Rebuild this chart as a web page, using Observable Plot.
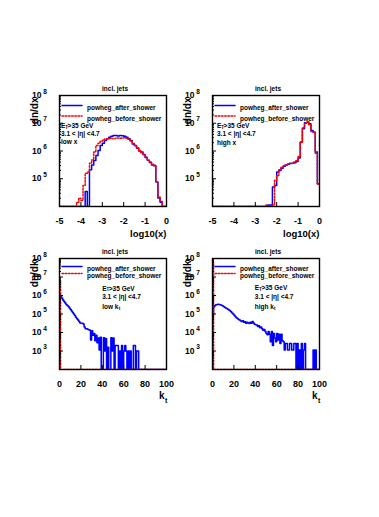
<!DOCTYPE html>
<html><head><meta charset="utf-8">
<script src="https://cdn.jsdelivr.net/npm/d3@7"></script>
<script src="https://cdn.jsdelivr.net/npm/@observablehq/plot@0.6"></script>
<style>
html,body{margin:0;padding:0;background:#fff;}
#root{position:relative;width:379px;height:517px;overflow:hidden;background:#fff;}
#root svg{position:absolute;overflow:visible;background:transparent;}
</style></head><body><div id="root"></div>
<script>
// ---------- data (log10 of bin content; null = empty bin) ----------
const seriesNames = ["powheg_after_shower", "powheg_before_shower"];
const panelTitle = "incl. jets";
const cutEt = ">35 GeV";
const cutEta = "3.1 < |η| <4.7";
const tagWords = ["low x", "high x", "low k", "high k"];

// log10(x) bins of width 0.1 from -5 to 0
const logxEdges = d3.range(50).map(i => Math.round((-5 + i * 0.1) * 10) / 10);
const logxWidth = 0.1;
const logxTicks = [-5, -4, -3, -2, -1, 0];

const lowX_after = [null, null, null, null, null, null, null, null, null, null, null, null,
  4.54, null, 5.32, 5.5, 5.66, 5.84, 6.02, 6.2, 6.28, 6.38, 6.44, 6.5,
  6.53, 6.56, 6.56, 6.54, 6.56, 6.55, 6.53, 6.5, 6.44, 6.38,
  6.25, 6.2, 6.1, 6.0, 5.96, 5.87, 5.77, 5.67, 5.59, 5.5,
  5.48, 4.88, 4.31, 4.15, null, null];
const lowX_before = [null, null, null, null, null, null, null, null,
  4.15, 4.3, 4.22, 4.76, 5.2, 5.24, 5.56, 5.68, 5.96, 6.2,
  6.28, 6.35, 6.4, 6.43, 6.44, 6.45, 6.45, 6.44, 6.46, 6.47,
  6.46, 6.47, 6.48, 6.46, 6.42, 6.36, 6.27, 6.2, 6.12, 6.02,
  5.94, 5.86, 5.78, 5.66, 5.6, 5.52, 5.46, 4.9, 4.34, 4.18, null, null];
const highX_after = [null, null, null, null, null, null, null, null, null, null,
  null, null, null, null, null, null, null, null, null, null,
  null, null, null, null, null, null,
  4.05, 4.05, 4.7, 4.76, 5.24, 5.3, 5.38, 5.45, 5.5, 5.52,
  5.55, 5.56, 5.58, 5.62, 5.75, 6.32, 6.8, 7.02, 7.04, 6.98,
  6.74, 6.68, 5.96, 4.82];
const highX_before = [null, null, null, null, null, null, null, null, null, null,
  null, null, null, null, null, null, null, null, null, null,
  null, null, null, null, null,
  4.05, null, null, 4.05, 4.95, 5.12, 5.32, 5.42, 5.48, 5.5,
  5.54, 5.56, 5.56, 5.6, 5.66, 5.8, 6.3, 6.85, 7.0, 7.05,
  6.95, 6.7, 6.68, 5.92, 4.8];

// k_t bins of 1 GeV from 0 to 100
const ktEdges = d3.range(100);
const ktWidth = 1;
const ktTicks = [0, 20, 40, 60, 80, 100];

const lowKt_after = [6.05, 5.95, 5.85, 5.76, 5.68, 5.6, 5.52, 5.46, 5.4, 5.32,
  5.24, 5.16, 5.08, 5.0, 4.92, 4.82, 4.75, 4.68, 4.6, 4.52,
  4.5, 4.5, 4.46, 4.3, 4.2, 4.2, 4.18, 4.15, 4.12, 3.6,
  4.1, 3.85, 3.95, 3.55, 3.85, 3.45, 3.7, 3.05, 3.75, null,
  null, 3.72, 3.0, 3.68, null, 3.2, null, null, 3.72, 3.0,
  3.7, null, 3.3, 3.3, 3.3, null, 3.0, null, 3.3, null,
  3.0, 3.3, 3.0, null, 3.0, null, 3.0, null, null, 3.3,
  3.3, null, 3.0, 3.0];
const lowKt_before = [6.8];
const highKt_after = [5.0, 5.38, 5.46, 5.5, 5.52, 5.53, 5.52, 5.5, 5.47, 5.44,
  5.4, 5.36, 5.33, 5.3, 5.26, 5.22, 5.17, 5.12, 5.06, 5.0,
  4.93, 4.86, 4.8, 4.76, 4.7, 4.68, 4.62, 4.6, 4.64, 4.55,
  4.58, 4.5, 4.56, 4.52, 4.48, 4.55, 4.5, 4.6, 4.52, 4.45,
  4.42, 4.4, 4.32, 4.36, 4.26, 4.3, 4.2, 4.12, 4.16, 4.05,
  3.95, 3.88, 4.05, 3.9, 3.5, 4.05, 3.3, 3.95, 3.7, 3.5,
  3.95, 3.6, 3.9, 3.4, 3.9, 3.55, 3.5, 3.05, 3.4, 3.4,
  3.05, 3.05, 3.4, 3.4, 3.05, 3.05, 3.4, 3.4, null, 3.4,
  null, 3.05, null, 3.4, null, 3.05, 3.4, null, null, null,
  null, null, null, null, 3.05, null, 3.05];
const highKt_before = [7.8];

// ---------- drawing ----------
const FONT = '"Liberation Sans", Arial, Helvetica, sans-serif';
const BLUE = "#0000ff", RED = "#ff0000";
const DASH = "1.6,1.6";
const hline = {draw(ctx, l) { ctx.moveTo(0, 0); ctx.lineTo(l, 0); }};

function steps(edges, width, vals, ymin) {
  return edges.flatMap((e, i) => {
    const v = vals[i];
    const y = v == null ? ymin : 10 ** v;
    return [{x: e, y}, {x: e + width, y}];
  });
}
function minorTicks(lo, hi) {
  const out = [];
  for (let d = lo; d < hi; d++) for (let k = 2; k <= 9; k++) out.push(k * 10 ** d);
  return out;
}

function panel(cfg) {
  const ymin = 10 ** cfg.yExp[0], ymax = 10 ** cfg.yExp[1];
  const yMajor = d3.range(cfg.yExp[0], cfg.yExp[1] + 1).map(e => 10 ** e);
  const yLabels = d3.range(cfg.yLabelFrom, cfg.yExp[1] + 1).map(e => 10 ** e);
  const t = (txt, o) => Plot.text([txt], {frameAnchor: "top-left", textAnchor: "start", fontSize: 6.5, fontWeight: "bold", ...o});
  const marks = [
    Plot.line(steps(cfg.edges, cfg.width, cfg.after, ymin), {x: "x", y: "y", stroke: BLUE, strokeWidth: 1.5, clip: true}),
    Plot.line(steps(cfg.edges, cfg.width, cfg.before, ymin), {x: "x", y: "y", stroke: RED, strokeWidth: 1.5, strokeDasharray: DASH, clip: true}),
    // ticks inside the frame
    Plot.axisX({ticks: cfg.xTicks, tickSize: 4, dy: -4, tickFormat: () => "", label: null, stroke: "black"}),
    Plot.axisX({ticks: cfg.xTicks, tickSize: 0, tickPadding: 11, tickFormat: d => String(d), label: null, fontSize: 9, fontWeight: "bold"}),
    Plot.axisY({ticks: yMajor, tickSize: 4, dx: 4, tickFormat: () => "", label: null, stroke: "black"}),
    Plot.axisY({ticks: minorTicks(cfg.yExp[0], cfg.yExp[1]), tickSize: 2, dx: 2, tickFormat: () => "", label: null, stroke: "black"}),
    // y tick labels 10^n
    Plot.text(yLabels, {y: d => d, text: () => "10", frameAnchor: "left", textAnchor: "end", dx: -18, fontSize: 8.5, fontWeight: "bold"}),
    Plot.text(yLabels, {y: d => d, text: d => String(Math.round(Math.log10(d))), frameAnchor: "left", textAnchor: "start", dx: -16.2, dy: -4, fontSize: 6.5, fontWeight: "bold"}),
    Plot.frame({stroke: "black", strokeWidth: 1.4}),
    // title
    Plot.text([panelTitle], {frameAnchor: "top", dx: 2, dy: -9, fontSize: 6.5, fontWeight: "bold"}),
    // y title
    Plot.text([cfg.yTitle], {frameAnchor: "top-left", rotate: -90, textAnchor: "end", dx: -29, dy: 2, fontSize: 10, fontWeight: "bold"}),
    // legend
    Plot.vector([0], {frameAnchor: "top-left", dx: cfg.lg.lineDx, dy: cfg.lg.dy[0], length: 20, shape: hline, anchor: "start", stroke: BLUE, strokeWidth: 1.5}),
    Plot.vector([0], {frameAnchor: "top-left", dx: cfg.lg.lineDx, dy: cfg.lg.dy[1], length: 20, shape: hline, anchor: "start", stroke: RED, strokeWidth: 1.5, strokeDasharray: DASH}),
    t(seriesNames[0], {dx: cfg.lg.textDx, dy: cfg.lg.dy[0]}),
    t(seriesNames[1], {dx: cfg.lg.textDx, dy: cfg.lg.dy[1]}),
    // cuts
    t("E", {dx: cfg.tag.dx, dy: cfg.tag.dy[0]}),
    t("T", {dx: cfg.tag.dx + 4.3, dy: cfg.tag.dy[0] + 1.8, fontSize: 4.5}),
    t(cutEt, {dx: cfg.tag.dx + 6.6, dy: cfg.tag.dy[0]}),
    t(cutEta, {dx: cfg.tag.dx, dy: cfg.tag.dy[1]}),
    t(cfg.tag.word, {dx: cfg.tag.dx, dy: cfg.tag.dy[2]})
  ];
  if (cfg.tag.sub) marks.push(t("t", {dx: cfg.tag.dx + cfg.tag.subDx, dy: cfg.tag.dy[2] + 1.8, fontSize: 4.5}));
  if (cfg.ySub) marks.push(Plot.text([cfg.ySub], {frameAnchor: "top-left", rotate: -90, textAnchor: "start", dx: -26, dy: 2, fontSize: 7, fontWeight: "bold"}));
  if (cfg.xSub) {
    marks.push(Plot.text([cfg.xTitle], {frameAnchor: "bottom-right", textAnchor: "end", dx: -2, dy: 29.5, fontSize: 10, fontWeight: "bold"}));
    marks.push(Plot.text([cfg.xSub], {frameAnchor: "bottom-right", textAnchor: "start", dx: -1.6, dy: 33, fontSize: 7, fontWeight: "bold"}));
  } else {
    marks.push(Plot.text([cfg.xTitle], {frameAnchor: "bottom-right", textAnchor: "end", dx: 0, dy: 30.7, fontSize: 9.5, fontWeight: "bold"}));
  }
  const svg = Plot.plot({
    width: 190, height: 180,
    marginLeft: 59, marginRight: 24, marginTop: 33, marginBottom: 36,
    x: {domain: cfg.xDomain},
    y: {type: "log", domain: [ymin, ymax]},
    style: {background: "transparent", overflow: "visible", fontFamily: FONT, color: "black"},
    marks
  });
  svg.style.left = cfg.left + "px";
  svg.style.top = cfg.top + "px";
  document.getElementById("root").appendChild(svg);
}

const topLg = {lineDx: 2.5, textDx: 27.5, dy: [10, 20.5]};
const botLg = {lineDx: 2.5, textDx: 27.5, dy: [8, 15]};

panel({left: 0, top: 62, edges: logxEdges, width: logxWidth, after: lowX_after, before: lowX_before,
  xDomain: [-5, 0], xTicks: logxTicks, yExp: [4, 8], yLabelFrom: 5, yTitle: "dn/dx", xTitle: "log10(x)",
  lg: topLg, tag: {dx: 1.5, dy: [28.3, 36.2, 44.3], word: tagWords[0]}});
panel({left: 153, top: 62, edges: logxEdges, width: logxWidth, after: highX_after, before: highX_before,
  xDomain: [-5, 0], xTicks: logxTicks, yExp: [4, 8], yLabelFrom: 5, yTitle: "dn/dx", xTitle: "log10(x)",
  lg: topLg, tag: {dx: 4.5, dy: [28.3, 36.2, 45], word: tagWords[1]}});
panel({left: 0, top: 225, edges: ktEdges, width: ktWidth, after: lowKt_after, before: lowKt_before,
  xDomain: [0, 100], xTicks: ktTicks, yExp: [2, 8], yLabelFrom: 3, yTitle: "dη/dk", ySub: "t", xTitle: "k", xSub: "t",
  lg: botLg, tag: {dx: 42.7, dy: [27.5, 36.2, 46], word: tagWords[2], sub: true, subDx: 16.5}});
panel({left: 153, top: 225, edges: ktEdges, width: ktWidth, after: highKt_after, before: highKt_before,
  xDomain: [0, 100], xTicks: ktTicks, yExp: [2, 8], yLabelFrom: 3, yTitle: "dη/dk", ySub: "t", xTitle: "k", xSub: "t",
  lg: botLg, tag: {dx: 42.3, dy: [27, 36, 46], word: tagWords[3], sub: true, subDx: 19.3}});
</script></body></html>
